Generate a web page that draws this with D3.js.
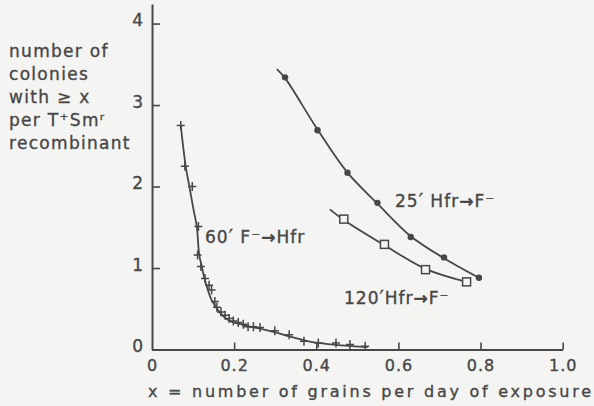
<!DOCTYPE html>
<html>
<head>
<meta charset="utf-8">
<script src="https://cdn.jsdelivr.net/npm/d3@7"></script>
<style>
  html, body { margin: 0; padding: 0; background: #f4f4f2; }
  svg { display: block; }
  text { font-family: "DejaVu Sans", sans-serif; fill: #474747; stroke: #474747; stroke-width: 0.35px; }
</style>
</head>
<body>
<svg id="chart" width="594" height="406"></svg>
<script>
// ---- data ----
const xTicks = [0, 0.2, 0.4, 0.6, 0.8, 1.0];
const xTickLabels = ["0", "0.2", "0.4", "0.6", "0.8", "1.0"];
const yTicks = [0, 1, 2, 3, 4];
const yTickLabels = ["0", "1", "2", "3", "4"];

// 25' Hfr -> F-  (filled dots)
const pts25 = [[0.324,3.34],[0.403,2.69],[0.476,2.17],[0.549,1.80],[0.630,1.38],[0.711,1.13],[0.796,0.88]];
const fit25 = [[0.304,3.44],[0.324,3.33],[0.403,2.70],[0.476,2.17],[0.549,1.79],[0.630,1.39],[0.711,1.12],[0.796,0.88]];

// 120' Hfr -> F-  (open squares)
const pts120 = [[0.467,1.60],[0.566,1.29],[0.666,0.98],[0.766,0.83]];
const fit120 = [[0.433,1.72],[0.467,1.59],[0.566,1.28],[0.666,0.99],[0.766,0.83]];

// 60' F- -> Hfr  (plus signs)
const pts60 = [[0.070,2.75],[0.080,2.25],[0.098,2.00],[0.113,1.51],[0.111,1.16],[0.119,1.02],
  [0.129,0.87],[0.139,0.79],[0.145,0.73],[0.153,0.59],[0.158,0.52],[0.168,0.46],[0.178,0.42],
  [0.188,0.38],[0.198,0.35],[0.210,0.33],[0.222,0.31],[0.234,0.28],[0.247,0.28],[0.263,0.27],
  [0.299,0.23],[0.334,0.18],[0.370,0.10],[0.405,0.08],[0.448,0.08],[0.482,0.06],[0.519,0.04]];
const fit60 = [[0.070,2.75],[0.082,2.25],[0.091,2.00],[0.101,1.72],[0.109,1.51],[0.115,1.16],
  [0.122,1.00],[0.129,0.85],[0.145,0.61],[0.166,0.45],[0.186,0.36],[0.215,0.31],[0.239,0.28],
  [0.263,0.255],[0.300,0.21],[0.334,0.16],[0.370,0.115],[0.405,0.08],[0.460,0.05],[0.525,0.03]];

const yTitle = ["number of", "colonies", "with \u2265 x", "per T\u207ASm\u02B3", "recombinant"];
const xTitle = "x = number  of grains per day of exposure";

// ---- drawing ----
const ink = "#474747";
const svg = d3.select("#chart");
const x = d3.scaleLinear().domain([0, 1]).range([152, 562.7]);
const y = d3.scaleLinear().domain([0, 4.24]).range([349.5, 4]);

// axes
const xAxis = d3.axisBottom(x).tickValues(xTicks)
  .tickFormat((d, i) => xTickLabels[i]).tickSizeInner(-7).tickSizeOuter(0).tickPadding(10);
const gx = svg.append("g").attr("transform", `translate(0,${y(0)})`).call(xAxis);
gx.selectAll("text").attr("font-size", 16).attr("letter-spacing", 1);

const yAxis = d3.axisLeft(y).tickValues(yTicks)
  .tickFormat((d, i) => yTickLabels[i]).tickSizeInner(-8).tickSizeOuter(0).tickPadding(9);
const gy = svg.append("g").attr("transform", `translate(${x(0)},0)`).call(yAxis);
gy.selectAll("text").attr("font-size", 17).attr("dy", "0.12em");

[gx, gy].forEach(g => {
  g.select(".domain").attr("stroke", ink).attr("stroke-width", 2);
  g.selectAll(".tick line").attr("stroke", ink).attr("stroke-width", 1.6);
  g.selectAll("text").style("font-family", "DejaVu Sans").attr("fill", ink);
});
gx.selectAll(".tick").filter(d => d === 0).select("line").remove();

// curves
const line = d3.line().x(d => x(d[0])).y(d => y(d[1])).curve(d3.curveCatmullRom.alpha(0.5));
[fit25, fit120, fit60].forEach(f => {
  svg.append("path").attr("d", line(f)).attr("fill", "none")
    .attr("stroke", ink).attr("stroke-width", 1.8);
});

// markers
svg.append("g").selectAll("circle").data(pts25).join("circle")
  .attr("cx", d => x(d[0])).attr("cy", d => y(d[1])).attr("r", 3.2).attr("fill", ink);
svg.append("g").selectAll("rect").data(pts120).join("rect")
  .attr("x", d => x(d[0]) - 4).attr("y", d => y(d[1]) - 4).attr("width", 8).attr("height", 8)
  .attr("fill", "#f4f4f2").attr("stroke", ink).attr("stroke-width", 1.5);
svg.append("g").selectAll("path").data(pts60).join("path")
  .attr("transform", d => `translate(${x(d[0])},${y(d[1])})`)
  .attr("d", "M-4,0H4M0,-4.5V4.5").attr("stroke", ink).attr("stroke-width", 1.5);

// series labels
function seriesLabel(px, py, parts) {
  const t = svg.append("text").attr("x", px).attr("y", py).attr("font-size", 17).attr("letter-spacing", 1);
  parts.forEach(p => {
    const s = t.append("tspan").text(p.t);
    if (p.dy) s.attr("dy", p.dy);
    if (p.bold) s.attr("font-weight", "bold");
    if (p.fs) s.attr("font-size", p.fs);
  });
}
seriesLabel(395, 207, [{t:"25"},{t:"\u2032",fs:19},{t:" Hfr"},{t:"\u2192",bold:true},{t:"F\u207B"}]);
seriesLabel(344, 304, [{t:"120"},{t:"\u2032",fs:19},{t:"Hfr"},{t:"\u2192",bold:true},{t:"F\u207B"}]);
seriesLabel(205, 243, [{t:"60"},{t:"\u2032",fs:19},{t:" F\u207B"},{t:"\u2192",bold:true},{t:"Hfr"}]);

// y title
svg.append("g").selectAll("text").data(yTitle).join("text")
  .attr("x", 9).attr("y", (d, i) => 57 + i * 23)
  .attr("font-size", 17).attr("letter-spacing", 1.3).text(d => d);

// x title
svg.append("text").attr("x", 148).attr("y", 397).attr("font-size", 16)
  .attr("textLength", 443).attr("lengthAdjust", "spacing").text(xTitle);
</script>
</body>
</html>
